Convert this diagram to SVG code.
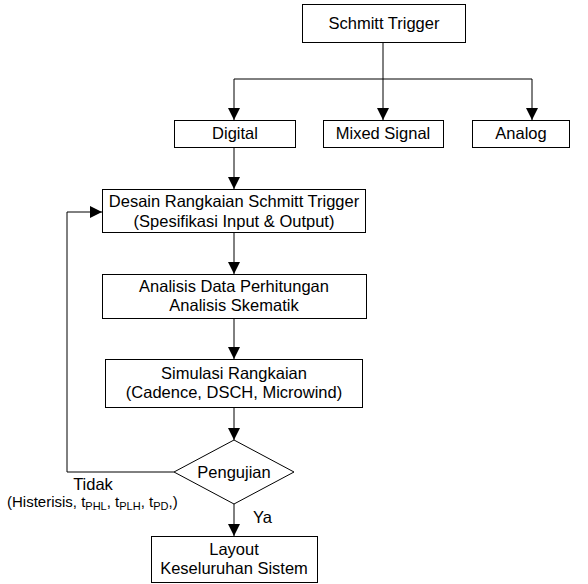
<svg xmlns="http://www.w3.org/2000/svg" width="588" height="584" viewBox="0 0 588 584">
<style>
.box{fill:#fff;stroke:#000;stroke-width:1}
.t{font-family:"Liberation Sans",Arial,sans-serif;font-size:16.5px;fill:#000;text-anchor:middle}
.c{fill:none;stroke:#000;stroke-width:1}
</style>
<defs>
<marker id="ah" viewBox="0 0 12 12" refX="12" refY="6" markerWidth="12" markerHeight="12" markerUnits="userSpaceOnUse" orient="auto">
<path d="M0,0 L12,6 L0,12 Z" fill="#000"/>
</marker>
</defs>
<rect width="588" height="584" fill="#fff"/>
<g id="connectors">
<path class="c" d="M383,42 V79"/>
<path class="c" d="M234,79 H532"/>
<path class="c" d="M234,79 V120" marker-end="url(#ah)"/>
<path class="c" d="M383,79 V120" marker-end="url(#ah)"/>
<path class="c" d="M532,79 V120" marker-end="url(#ah)"/>
<path class="c" d="M234,147 V189" marker-end="url(#ah)"/>
<path class="c" d="M234,232 V274" marker-end="url(#ah)"/>
<path class="c" d="M234,318 V359" marker-end="url(#ah)"/>
<path class="c" d="M234,407 V440" marker-end="url(#ah)"/>
<path class="c" d="M234,504 V536" marker-end="url(#ah)"/>
<path class="c" d="M174,472 H67 V212 H102" marker-end="url(#ah)"/>
<text class="t" x="93" y="490">Tidak</text>
<text class="t" x="7" y="507" style="text-anchor:start;font-size:15px">(Histerisis, t<tspan font-size="11" dy="3">PHL</tspan><tspan dy="-3">, t</tspan><tspan font-size="11" dy="3">PLH</tspan><tspan dy="-3">, t</tspan><tspan font-size="11" dy="3">PD</tspan><tspan dy="-3">,)</tspan></text>
<text class="t" x="253" y="523" style="text-anchor:start">Ya</text>
</g>
<g id="schmitt">
<rect class="box" x="302.5" y="4.5" width="163" height="38"/>
<text class="t" x="384" y="29">Schmitt Trigger</text>
</g>
<g id="digital">
<rect class="box" x="174.5" y="120.5" width="121" height="27"/>
<text class="t" x="235" y="139">Digital</text>
</g>
<g id="mixed">
<rect class="box" x="323.5" y="120.5" width="120" height="27"/>
<text class="t" x="383" y="139">Mixed Signal</text>
</g>
<g id="analog">
<rect class="box" x="472.5" y="120.5" width="97" height="27"/>
<text class="t" x="521" y="139">Analog</text>
</g>
<g id="desain">
<rect class="box" x="102.5" y="189.5" width="263" height="43"/>
<text class="t" x="234" y="207">Desain Rangkaian Schmitt Trigger</text>
<text class="t" x="234" y="227">(Spesifikasi Input &amp; Output)</text>
</g>
<g id="analisis">
<rect class="box" x="102.5" y="274.5" width="264" height="44"/>
<text class="t" x="234" y="292">Analisis Data Perhitungan</text>
<text class="t" x="234" y="311">Analisis Skematik</text>
</g>
<g id="simulasi">
<rect class="box" x="105.5" y="359.5" width="257" height="48"/>
<text class="t" x="234" y="379">Simulasi Rangkaian</text>
<text class="t" x="234" y="398">(Cadence, DSCH, Microwind)</text>
</g>
<g id="pengujian">
<path class="box" d="M234,440 L294,472 L234,504 L174,472 Z"/>
<text class="t" x="234" y="478">Pengujian</text>
</g>
<g id="layout">
<rect class="box" x="151.5" y="536.5" width="166" height="46"/>
<text class="t" x="234" y="555">Layout</text>
<text class="t" x="234" y="574">Keseluruhan Sistem</text>
</g>
</svg>
